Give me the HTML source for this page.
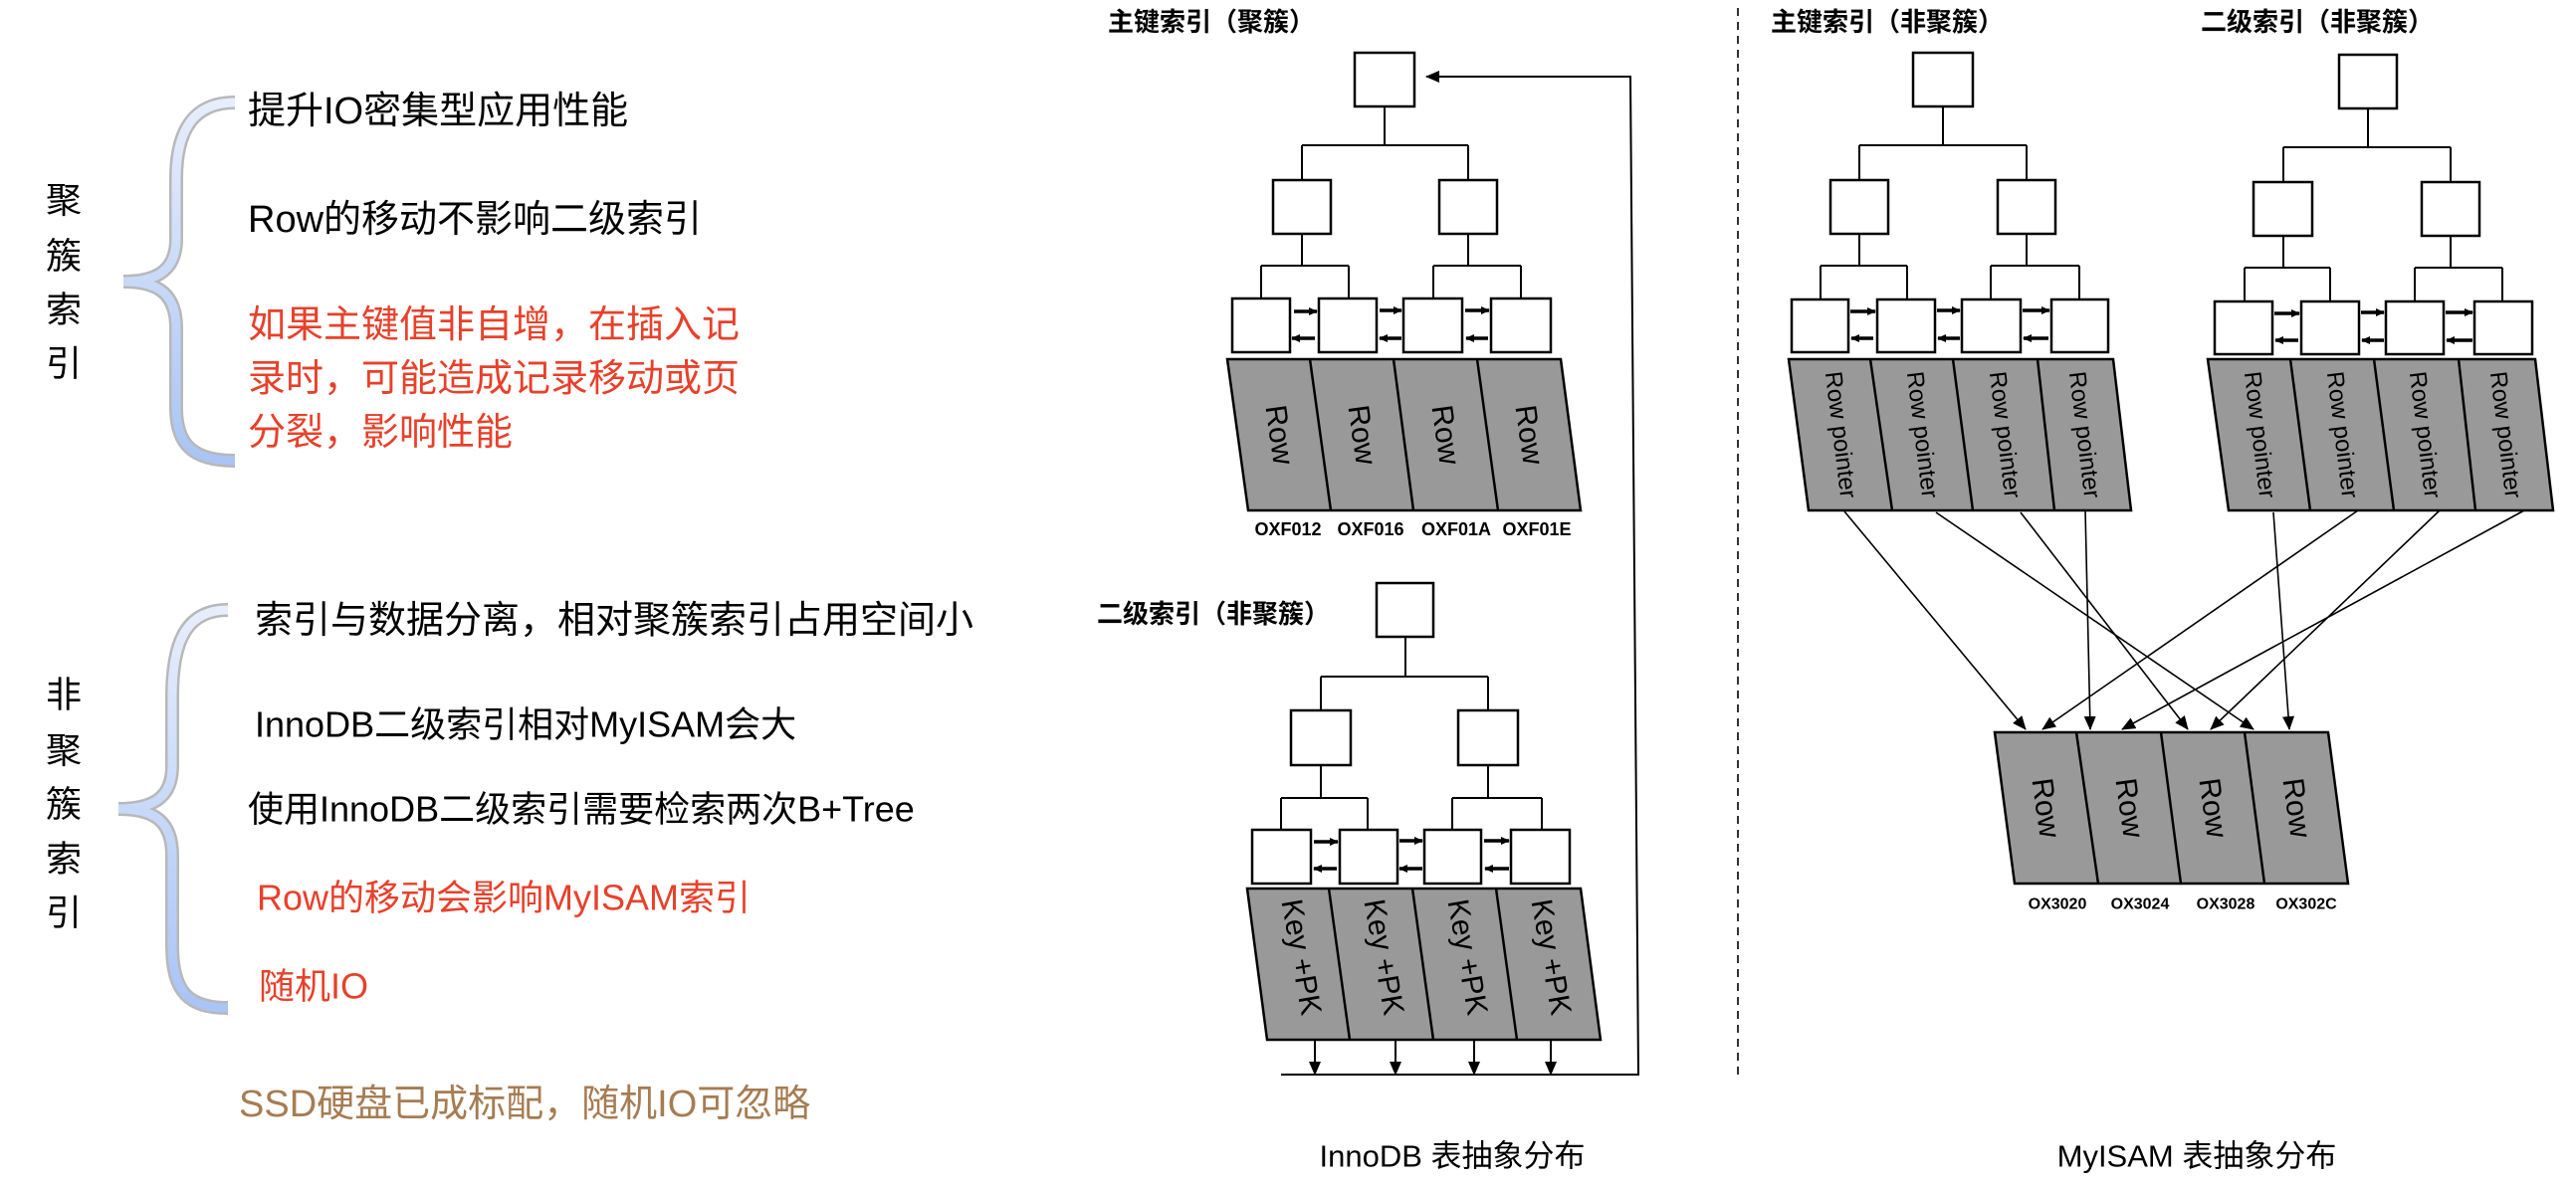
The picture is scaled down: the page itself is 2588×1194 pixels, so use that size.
<!DOCTYPE html>
<html><head><meta charset="utf-8"><style>
html,body{margin:0;padding:0;background:#fff;}
svg{display:block;}
text{font-family:"Liberation Sans","Noto Sans CJK SC",sans-serif;}
</style></head><body>
<svg width="2588" height="1194" viewBox="0 0 2588 1194" xmlns="http://www.w3.org/2000/svg">
<defs>
<linearGradient id="bg" x1="0" y1="0" x2="0" y2="1"><stop offset="0" stop-color="#e6eefc"/><stop offset="1" stop-color="#a9c4f5"/></linearGradient>
<marker id="s" markerWidth="9" markerHeight="8" refX="8" refY="4" orient="auto" markerUnits="userSpaceOnUse"><path d="M0,0 L9,4 L0,8 z" fill="#000"/></marker>
<marker id="b" markerWidth="14" markerHeight="12" refX="13" refY="6" orient="auto" markerUnits="userSpaceOnUse"><path d="M0,0 L14,6 L0,12 z" fill="#000"/></marker>
</defs>

<g font-size="36" fill="#000" text-anchor="middle" dominant-baseline="central">
<text x="64" y="201">聚</text><text x="64" y="257">簇</text><text x="64" y="311">索</text><text x="64" y="365">引</text>
<text x="64" y="698">非</text><text x="64" y="754">聚</text><text x="64" y="808">簇</text><text x="64" y="863">索</text><text x="64" y="917">引</text>
</g>
<path d="M236,103 C195,103 177,130 177,180 L177,240 C177,270 160,283 124,283 C160,283 177,296 177,330 L177,410 C177,448 195,463 236,463" fill="none" stroke="#b8b8b8" stroke-width="14"/>
<path d="M236,103 C195,103 177,130 177,180 L177,240 C177,270 160,283 124,283 C160,283 177,296 177,330 L177,410 C177,448 195,463 236,463" fill="none" stroke="url(#bg)" stroke-width="9"/>
<path d="M229,613 C190,613 173,640 173,700 L173,770 C173,800 156,813 119,813 C156,813 173,826 173,860 L173,950 C173,998 190,1013 229,1013" fill="none" stroke="#b8b8b8" stroke-width="14"/>
<path d="M229,613 C190,613 173,640 173,700 L173,770 C173,800 156,813 119,813 C156,813 173,826 173,860 L173,950 C173,998 190,1013 229,1013" fill="none" stroke="url(#bg)" stroke-width="9"/>

<g font-size="38" dominant-baseline="central">
<text x="249" y="112" fill="#000">提升IO密集型应用性能</text>
<text x="249" y="221" fill="#000">Row的移动不影响二级索引</text>
<text x="249" y="327" fill="#e8402a">如果主键值非自增，在插入记</text>
<text x="249" y="381" fill="#e8402a">录时，可能造成记录移动或页</text>
<text x="249" y="435" fill="#e8402a">分裂，影响性能</text>
<text x="256" y="624" fill="#000">索引与数据分离，相对聚簇索引占用空间小</text>
<text x="256" y="728" fill="#000" font-size="36">InnoDB二级索引相对MyISAM会大</text>
<text x="249" y="813" fill="#000" font-size="36">使用InnoDB二级索引需要检索两次B+Tree</text>
<text x="258" y="902" fill="#e8402a" font-size="36">Row的移动会影响MyISAM索引</text>
<text x="260" y="991" fill="#e8402a" font-size="36">随机IO</text>
<text x="240" y="1110" fill="#a67c52" font-size="38">SSD硬盘已成标配，随机IO可忽略</text>
</g>

<g font-size="26" font-weight="bold" dominant-baseline="central">
<text x="1113" y="22">主键索引（聚簇）</text>
<text x="1102" y="617">二级索引（非聚簇）</text>
<text x="1779" y="22">主键索引（非聚簇）</text>
<text x="2211" y="22">二级索引（非聚簇）</text>
</g>
<g font-size="31" text-anchor="middle" dominant-baseline="central">
<text x="1459" y="1162">InnoDB 表抽象分布</text>
<text x="2207" y="1162">MyISAM 表抽象分布</text>
</g>

<line x1="1746" y1="8" x2="1746" y2="1081" stroke="#333" stroke-width="2" stroke-dasharray="8,6"/>

<g fill="#fff" stroke="#000" stroke-width="2.5">
<rect x="1361" y="53" width="60" height="54"/>
<rect x="1279" y="181" width="58" height="54"/><rect x="1446" y="181" width="58" height="54"/>
<rect x="1238" y="300" width="58" height="54"/><rect x="1325" y="300" width="58" height="54"/><rect x="1410" y="300" width="59" height="54"/><rect x="1498" y="300" width="60" height="54"/>
<rect x="1383" y="586" width="57" height="54"/>
<rect x="1297" y="714" width="60" height="55"/><rect x="1465" y="714" width="60" height="55"/>
<rect x="1258" y="834" width="59" height="54"/><rect x="1346" y="834" width="58" height="54"/><rect x="1431" y="834" width="57" height="54"/><rect x="1518" y="834" width="59" height="54"/>
<rect x="1922" y="53" width="60" height="54"/>
<rect x="1839" y="181" width="58" height="54"/><rect x="2007" y="181" width="58" height="54"/>
<rect x="1800" y="301" width="57" height="53"/><rect x="1886" y="301" width="58" height="53"/><rect x="1971" y="301" width="59" height="53"/><rect x="2061" y="301" width="57" height="53"/>
<rect x="2350" y="55" width="58" height="54"/>
<rect x="2264" y="183" width="59" height="54"/><rect x="2433" y="183" width="58" height="54"/>
<rect x="2225" y="303" width="58" height="53"/><rect x="2312" y="303" width="58" height="53"/><rect x="2397" y="303" width="58" height="53"/><rect x="2486" y="303" width="58" height="53"/>
</g>

<g fill="none" stroke="#000" stroke-width="2">
<path d="M1391,107 V146 M1308,146 H1475 M1308,146 V181 M1475,146 V181 M1308,235 V267 M1267,267 H1355 M1267,267 V300 M1355,267 V300 M1475,235 V267 M1440,267 H1528 M1440,267 V300 M1528,267 V300"/>
<path d="M1412,640 V680 M1327,680 H1495 M1327,680 V714 M1495,680 V714 M1327,769 V802 M1287,802 H1374 M1287,802 V834 M1374,802 V834 M1495,769 V802 M1459,802 H1549 M1459,802 V834 M1549,802 V834"/>
<path d="M1952,107 V146 M1868,146 H2036 M1868,146 V181 M2036,146 V181 M1868,235 V267 M1829,267 H1916 M1829,267 V301 M1916,267 V301 M2036,235 V267 M2000,267 H2089 M2000,267 V301 M2089,267 V301"/>
<path d="M2379,109 V148 M2294,148 H2462 M2294,148 V183 M2462,148 V183 M2294,237 V269 M2255,269 H2341 M2255,269 V303 M2341,269 V303 M2462,237 V269 M2426,269 H2514 M2426,269 V303 M2514,269 V303"/>
</g>

<g stroke="#000" stroke-width="3.5" marker-end="url(#s)">
<line x1="1300" y1="313" x2="1323" y2="313"/><line x1="1321" y1="340" x2="1298" y2="340"/>
<line x1="1386" y1="312" x2="1408" y2="312"/><line x1="1408" y1="340" x2="1386" y2="340"/>
<line x1="1472" y1="312" x2="1496" y2="312"/><line x1="1495" y1="340" x2="1473" y2="340"/>
<line x1="1320" y1="846" x2="1344" y2="846"/><line x1="1343" y1="873" x2="1320" y2="873"/>
<line x1="1406" y1="845" x2="1429" y2="845"/><line x1="1429" y1="873" x2="1406" y2="873"/>
<line x1="1491" y1="845" x2="1516" y2="845"/><line x1="1516" y1="873" x2="1492" y2="873"/>
<line x1="1859" y1="313" x2="1884" y2="313"/><line x1="1882" y1="340" x2="1860" y2="340"/>
<line x1="1946" y1="312" x2="1969" y2="312"/><line x1="1969" y1="340" x2="1947" y2="340"/>
<line x1="2032" y1="312" x2="2059" y2="312"/><line x1="2058" y1="340" x2="2033" y2="340"/>
<line x1="2285" y1="315" x2="2310" y2="315"/><line x1="2309" y1="342" x2="2286" y2="342"/>
<line x1="2372" y1="314" x2="2395" y2="314"/><line x1="2395" y1="342" x2="2373" y2="342"/>
<line x1="2457" y1="314" x2="2484" y2="314"/><line x1="2484" y1="342" x2="2458" y2="342"/>
</g>

<g fill="#999" stroke="#000" stroke-width="2.5">
<path d="M1233,361 L1568,361 L1588,513 L1254,513 Z M1316,361 L1337,513 M1400,361 L1420,513 M1484,361 L1505,513"/>
<path d="M1253,893 L1588,893 L1608,1045 L1273,1045 Z M1335,893 L1356,1045 M1419,893 L1440,1045 M1503,893 L1524,1045"/>
<path d="M1797,361 L2123,361 L2141,513 L1817,513 Z M1879,361 L1901,513 M1962,361 L1982,513 M2047,361 L2064,513"/>
<path d="M2218,361 L2547,361 L2565,513 L2239,513 Z M2301,361 L2321,513 M2385,361 L2405,513 M2470,361 L2487,513"/>
<path d="M2004,736 L2339,736 L2359,888 L2024,888 Z M2086,736 L2108,888 M2171,736 L2191,888 M2255,736 L2275,888"/>
</g>

<g font-size="30" text-anchor="middle" dominant-baseline="central" fill="#000">
<text transform="translate(1285,437) rotate(82)">Row</text>
<text transform="translate(1368,437) rotate(82)">Row</text>
<text transform="translate(1452,437) rotate(82)">Row</text>
<text transform="translate(1536,437) rotate(82)">Row</text>
<text transform="translate(2055,812) rotate(82)">Row</text>
<text transform="translate(2139,812) rotate(82)">Row</text>
<text transform="translate(2223,812) rotate(82)">Row</text>
<text transform="translate(2307,812) rotate(82)">Row</text>
</g>
<g font-size="30" text-anchor="middle" dominant-baseline="central" fill="#000">
<text transform="translate(1307,962) rotate(80)">Key +PK</text>
<text transform="translate(1390,962) rotate(80)">Key +PK</text>
<text transform="translate(1474,962) rotate(80)">Key +PK</text>
<text transform="translate(1558,962) rotate(80)">Key +PK</text>
</g>
<g font-size="24" text-anchor="middle" dominant-baseline="central" fill="#000">
<text transform="translate(1849,437) rotate(83)">Row pointer</text>
<text transform="translate(1931,437) rotate(83)">Row pointer</text>
<text transform="translate(2014,437) rotate(83)">Row pointer</text>
<text transform="translate(2094,437) rotate(83)">Row pointer</text>
<text transform="translate(2270,437) rotate(83)">Row pointer</text>
<text transform="translate(2353,437) rotate(83)">Row pointer</text>
<text transform="translate(2436,437) rotate(83)">Row pointer</text>
<text transform="translate(2517,437) rotate(83)">Row pointer</text>
</g>

<g font-size="18" font-weight="bold" text-anchor="middle" dominant-baseline="central">
<text x="1294" y="532">OXF012</text><text x="1377" y="532">OXF016</text><text x="1463" y="532">OXF01A</text><text x="1544" y="532">OXF01E</text>
</g>
<g font-size="16" font-weight="bold" text-anchor="middle" dominant-baseline="central">
<text x="2067" y="909">OX3020</text><text x="2150" y="909">OX3024</text><text x="2236" y="909">OX3028</text><text x="2317" y="909">OX302C</text>
</g>

<g stroke="#000" stroke-width="2" fill="none">
<polyline points="1287,1080 1646,1080 1638,77 1433,77" marker-end="url(#b)"/>
<line x1="1321" y1="1045" x2="1321" y2="1080" marker-end="url(#b)"/>
<line x1="1402" y1="1045" x2="1402" y2="1080" marker-end="url(#b)"/>
<line x1="1481" y1="1045" x2="1481" y2="1080" marker-end="url(#b)"/>
<line x1="1558" y1="1045" x2="1558" y2="1080" marker-end="url(#b)"/>
</g>

<g stroke="#000" stroke-width="1.6" fill="none" marker-end="url(#b)">
<line x1="1853" y1="514" x2="2035" y2="733"/>
<line x1="1945" y1="515" x2="2264" y2="733"/>
<line x1="2030" y1="515" x2="2198" y2="733"/>
<line x1="2095" y1="513" x2="2100" y2="733"/>
<line x1="2284" y1="515" x2="2300" y2="733"/>
<line x1="2369" y1="513" x2="2052" y2="733"/>
<line x1="2451" y1="513" x2="2221" y2="733"/>
<line x1="2536" y1="513" x2="2132" y2="733"/>
</g>
</svg>
</body></html>
